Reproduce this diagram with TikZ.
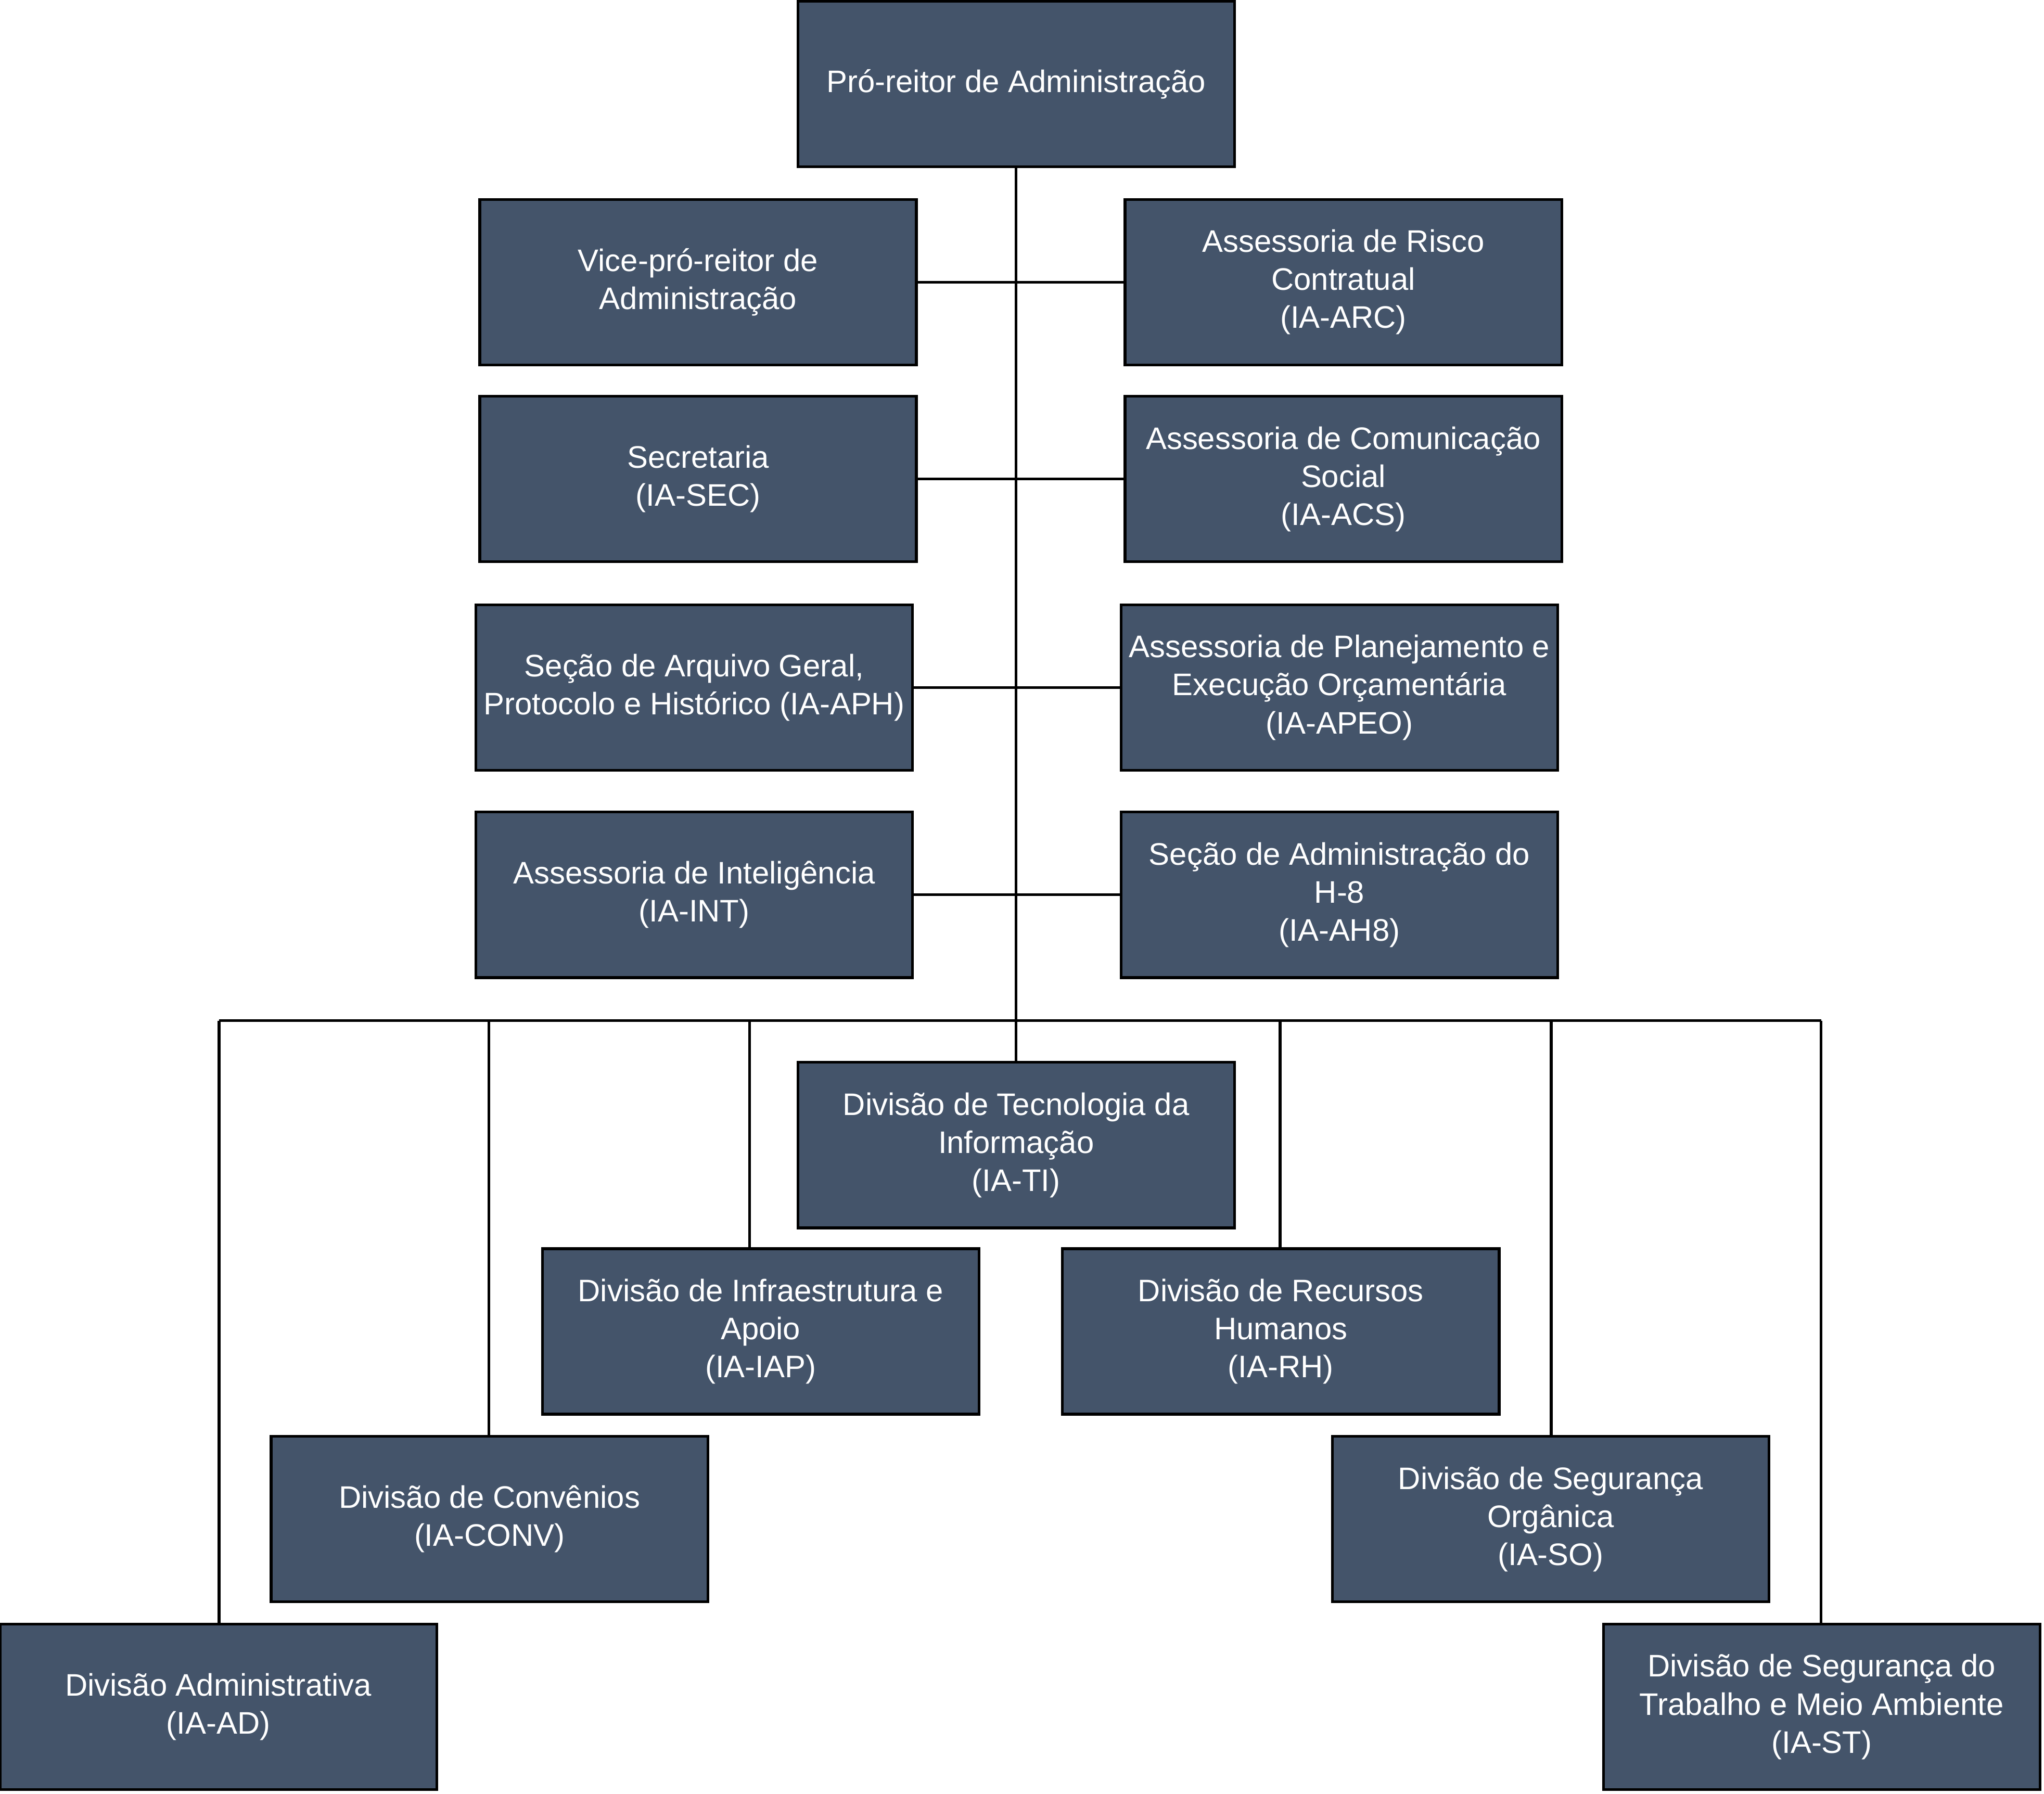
\documentclass[tikz,border=0pt]{standalone}
\usepackage{fontspec}
\setmainfont{Liberation Sans}
\usetikzlibrary{positioning}
\definecolor{unitfill}{HTML}{44546A}
\tikzset{
    unit/.style={rectangle, draw=black, fill=unitfill, text=white, minimum width=3.35cm, minimum height=1.27cm, align=center, inner sep=1pt, font=\fontsize{6.8}{8.3}\selectfont, line width=0.6pt},
    line/.style={line width=0.6pt}
}
\begin{document}
\begin{tikzpicture}
    \useasboundingbox (0,0) rectangle (15.68,-13.76);
    % Top
    \node[unit] (pro) at (7.795,-0.645) {Pró-reitor de Administração};

    % Staff units
    \node[unit] (vice) at (5.355,-2.165) {Vice-pró-reitor de\\Administração};
    \node[unit] (arc) at (10.305,-2.165) {Assessoria de Risco\\Contratual\\(IA-ARC)};
    \node[unit] (sec) at (5.355,-3.675) {Secretaria\\(IA-SEC)};
    \node[unit] (acs) at (10.305,-3.675) {Assessoria de Comunicação\\Social\\(IA-ACS)};
    \node[unit] (aph) at (5.325,-5.275) {Seção de Arquivo Geral,\\Protocolo e Histórico (IA-APH)};
    \node[unit] (apeo) at (10.275,-5.275) {Assessoria de Planejamento e\\Execução Orçamentária\\(IA-APEO)};
    \node[unit] (int) at (5.325,-6.865) {Assessoria de Inteligência\\(IA-INT)};
    \node[unit] (ah8) at (10.275,-6.865) {Seção de Administração do\\H-8\\(IA-AH8)};

    % Divisions
    \node[unit] (ti) at (7.795,-8.785) {Divisão de Tecnologia da\\Informação\\(IA-TI)};
    \node[unit] (iap) at (5.835,-10.215) {Divisão de Infraestrutura e\\Apoio\\(IA-IAP)};
    \node[unit] (rh) at (9.825,-10.215) {Divisão de Recursos\\Humanos\\(IA-RH)};
    \node[unit] (conv) at (3.755,-11.655) {Divisão de Convênios\\(IA-CONV)};
    \node[unit] (so) at (11.895,-11.655) {Divisão de Segurança\\Orgânica\\(IA-SO)};
    \node[unit] (ad) at (1.675,-13.095) {Divisão Administrativa\\(IA-AD)};
    \node[unit] (st) at (13.975,-13.095) {Divisão de Segurança do\\Trabalho e Meio Ambiente\\(IA-ST)};

    % Bus junctions
    \coordinate (jad) at (1.68,-7.83);
    \coordinate (jconv) at (3.75,-7.83);
    \coordinate (jiap) at (5.75,-7.83);
    \coordinate (jrh) at (9.82,-7.83);
    \coordinate (jso) at (11.90,-7.83);
    \coordinate (jst) at (13.97,-7.83);

    % Lines
    \draw[line] (pro) -- (ti);
    \draw[line] (vice) -- (arc);
    \draw[line] (sec) -- (acs);
    \draw[line] (aph) -- (apeo);
    \draw[line] (int) -- (ah8);
    \draw[line] (jad) -- (jst);
    \draw[line] (jad) -- (jad |- ad.north);
    \draw[line] (jconv) -- (jconv |- conv.north);
    \draw[line] (jiap) -- (jiap |- iap.north);
    \draw[line] (jrh) -- (jrh |- rh.north);
    \draw[line] (jso) -- (jso |- so.north);
    \draw[line] (jst) -- (jst |- st.north);
\end{tikzpicture}
\end{document}
